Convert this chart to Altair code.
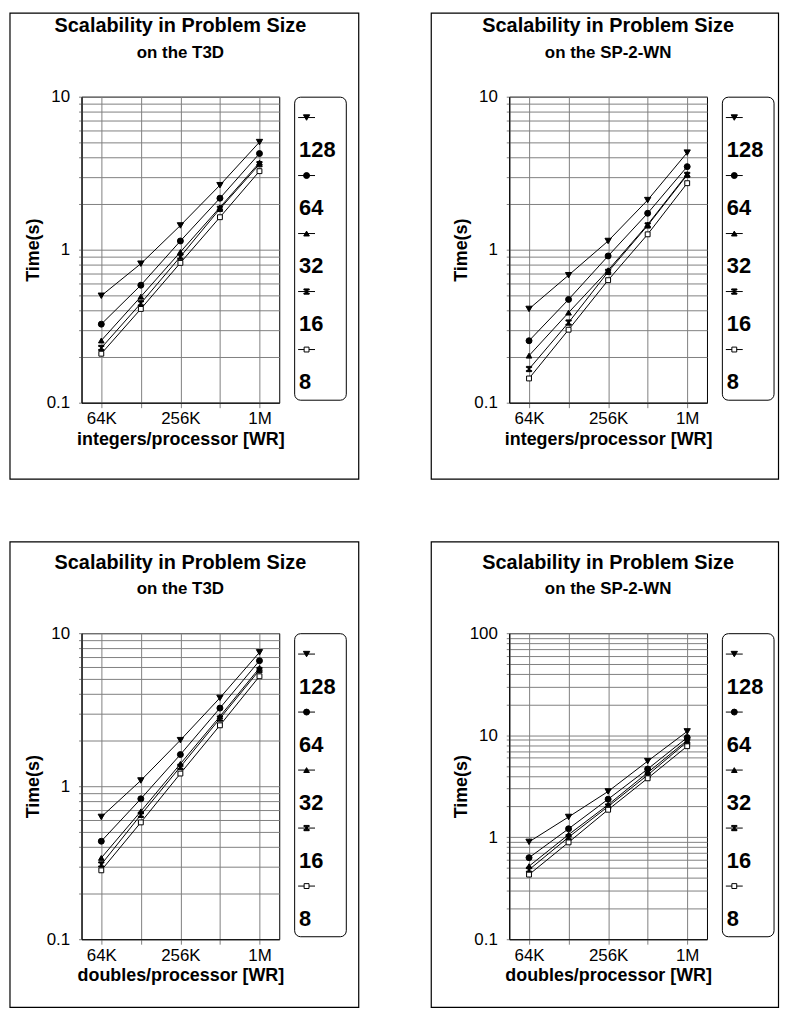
import altair as alt
import pandas as pd

FONT = "Liberation Sans"

x_labels = ["64K", "128K", "256K", "512K", "1M"]
series = ["128", "64", "32", "16", "8"]

# Time(s) per series (rows: 128, 64, 32, 16, 8 processors), columns follow x_labels
t3d_integers = [
    [0.50, 0.81, 1.44, 2.64, 5.05],
    [0.326, 0.586, 1.14, 2.17, 4.25],
    [0.255, 0.493, 0.966, 1.89, 3.71],
    [0.228, 0.446, 0.90, 1.85, 3.62],
    [0.209, 0.41, 0.82, 1.63, 3.26],
]
sp2_integers = [
    [0.41, 0.681, 1.14, 2.11, 4.31],
    [0.254, 0.473, 0.91, 1.73, 3.49],
    [0.203, 0.388, 0.734, 1.46, 3.12],
    [0.166, 0.334, 0.716, 1.44, 3.08],
    [0.144, 0.30, 0.632, 1.26, 2.72],
]
t3d_doubles = [
    [0.63, 1.09, 2.0, 3.78, 7.5],
    [0.437, 0.827, 1.61, 3.24, 6.61],
    [0.34, 0.685, 1.40, 2.86, 5.93],
    [0.308, 0.65, 1.34, 2.77, 5.75],
    [0.282, 0.58, 1.21, 2.50, 5.23],
]
sp2_doubles = [
    [0.90, 1.58, 2.81, 5.57, 10.9],
    [0.63, 1.21, 2.36, 4.66, 9.48],
    [0.52, 1.06, 2.08, 4.30, 8.92],
    [0.48, 1.0, 2.0, 4.07, 8.61],
    [0.43, 0.89, 1.86, 3.78, 7.8],
]

main_title = "Scalability in Problem Size"
subtitles = ["on the T3D", "on the SP-2-WN", "on the T3D", "on the SP-2-WN"]
x_titles = ["integers/processor [WR]", "integers/processor [WR]",
            "doubles/processor [WR]", "doubles/processor [WR]"]
y_title = "Time(s)"

ticks_to_10 = [0.1, 0.2, 0.3, 0.4, 0.5, 0.6, 0.7, 0.8, 0.9,
               1, 2, 3, 4, 5, 6, 7, 8, 9, 10]
ticks_to_100 = ticks_to_10 + [20, 30, 40, 50, 60, 70, 80, 90, 100]

IBEAM = "M-1,-1H1V-0.55H0.35V0.55H1V1H-1V0.55H-0.35V-0.55H-1Z"
shape_scale = alt.Scale(domain=series,
                        range=["triangle-down", "circle", "triangle-up", IBEAM, "square"])
fill_scale = alt.Scale(domain=series, range=["black", "black", "black", "black", "white"])
size_scale = alt.Scale(domain=series, range=[40, 24, 40, 28, 22])

PLOT_W, PLOT_H = 199, 308
LEG_W, LEG_H = 52, 305
GAP = 15


def make_panel(values, subtitle, xtitle, ticks, ymax, col, row):
    rows = []
    for s, vals in zip(series, values):
        for i, (xl, v) in enumerate(zip(x_labels, vals)):
            rows.append({"size": xl, "procs": s, "time": v, "idx": i})
    df = pd.DataFrame(rows)

    x = alt.X(
        "size:N", sort=x_labels,
        scale=alt.Scale(type="point", padding=0.5),
        axis=alt.Axis(
            title=xtitle, labelAngle=0, grid=True,
            labelExpr="datum.label == '128K' || datum.label == '512K' ? '' : datum.label",
            tickSize=5, labelPadding=3, titlePadding=4,
            labelFontSize=17, titleFontSize=18, titleFontWeight="bold",
        ),
    )
    y = alt.Y(
        "time:Q",
        scale=alt.Scale(type="log", domain=[0.1, ymax], nice=False),
        axis=alt.Axis(
            title=y_title, values=ticks, grid=True, labelFlush=False,
            labelExpr="datum.value == 0.1 ? '0.1' : datum.value == 1 ? '1' : "
                      "datum.value == 10 ? '10' : datum.value == 100 ? '100' : ''",
            tickSize=3, labelPadding=9, labelFontSize=17,
            titleFontSize=18, titleFontWeight="bold",
            titleX=-48, titleY=154, titleAngle=270,
            titleAlign="center", titleBaseline="middle",
        ),
    )
    base = alt.Chart(df)
    lines = base.mark_line(color="black", strokeWidth=1).encode(
        x=x, y=y, detail="procs:N", order=alt.Order("idx:Q"))
    pts = base.mark_point(filled=True, stroke="black", strokeWidth=1, opacity=1).encode(
        x=x, y=y,
        shape=alt.Shape("procs:N", scale=shape_scale, legend=None),
        fill=alt.Fill("procs:N", scale=fill_scale, legend=None),
        size=alt.Size("procs:N", scale=size_scale, legend=None),
    )
    plot = alt.layer(lines, pts).properties(
        width=PLOT_W, height=PLOT_H,
        view=alt.ViewBackground(stroke="black", strokeWidth=1),
    )

    # legend box (symbol above its label), panel titles and the panel's outer frame
    leg_df = pd.DataFrame({"procs": series})
    ly = alt.Y("procs:N", sort=series,
               scale=alt.Scale(type="point", domain=series, range=[37.5, 271], padding=0),
               axis=None)
    fx1 = -286 if col == 0 else -292.5
    fx2 = 65 if col == 0 else 57
    fy1 = -84 if row == 0 else -92
    fy2 = 385 if row == 0 else 376.5
    one = alt.Data(values=[{"f": 1}])
    frame = alt.Chart(one).mark_rect(
        fillOpacity=0, stroke="black", strokeWidth=1.2).encode(
        x=alt.value(fx1), x2=alt.value(fx2), y=alt.value(fy1), y2=alt.value(fy2))
    cx = -(GAP + PLOT_W / 2)
    ttl = alt.Chart(one).mark_text(
        align="center", baseline="alphabetic", fontSize=20, fontWeight="bold",
        font=FONT, color="black", text=main_title).encode(
        x=alt.value(cx), y=alt.value(-65))
    sub = alt.Chart(one).mark_text(
        align="center", baseline="alphabetic", fontSize=17, fontWeight="bold",
        font=FONT, color="black", text=subtitle).encode(
        x=alt.value(cx), y=alt.value(-39))
    lrules = alt.Chart(leg_df).mark_rule(color="black", strokeWidth=1, yOffset=-16.5).encode(
        x=alt.value(4), x2=alt.value(21), y=ly)
    lpts = alt.Chart(leg_df).mark_point(filled=True, stroke="black", strokeWidth=1,
                                        opacity=1, yOffset=-16.5).encode(
        x=alt.value(12.5), y=ly,
        shape=alt.Shape("procs:N", scale=shape_scale, legend=None),
        fill=alt.Fill("procs:N", scale=fill_scale, legend=None),
        size=alt.Size("procs:N", scale=size_scale, legend=None),
    )
    ltext = alt.Chart(leg_df).mark_text(
        align="left", baseline="middle", fontSize=22, fontWeight="bold",
        font=FONT, color="black", dy=16.5).encode(
        x=alt.value(5), y=ly, text="procs:N")
    legend = alt.layer(frame, ttl, sub, lrules, lpts, ltext).properties(
        width=LEG_W, height=LEG_H,
        view=alt.ViewBackground(stroke="black", strokeWidth=1, cornerRadius=6, fill="white"),
    )
    return alt.hconcat(plot, legend, spacing=GAP, bounds="flush")


p1 = make_panel(t3d_integers, subtitles[0], x_titles[0], ticks_to_10, 10, 0, 0)
p2 = make_panel(sp2_integers, subtitles[1], x_titles[1], ticks_to_10, 10, 1, 0)
p3 = make_panel(t3d_doubles, subtitles[2], x_titles[2], ticks_to_10, 10, 0, 1)
p4 = make_panel(sp2_doubles, subtitles[3], x_titles[3], ticks_to_100, 100, 1, 1)

row1 = alt.hconcat(p1, p2, spacing=69.5)
row2 = alt.hconcat(p3, p4, spacing=69.5)

chart = alt.vconcat(row1, row2, spacing=59).properties(
    padding={"left": 0, "top": 0, "right": 0, "bottom": 0},
).configure_axis(
    labelFont=FONT, titleFont=FONT, labelColor="black", titleColor="black",
    domainColor="black", domainWidth=1, tickColor="#808080", tickWidth=1,
    gridColor="#808080", gridWidth=1, gridOpacity=1,
).configure_view(stroke="black")

chart.save("out.html", embed_options={"renderer": "svg", "actions": False})
